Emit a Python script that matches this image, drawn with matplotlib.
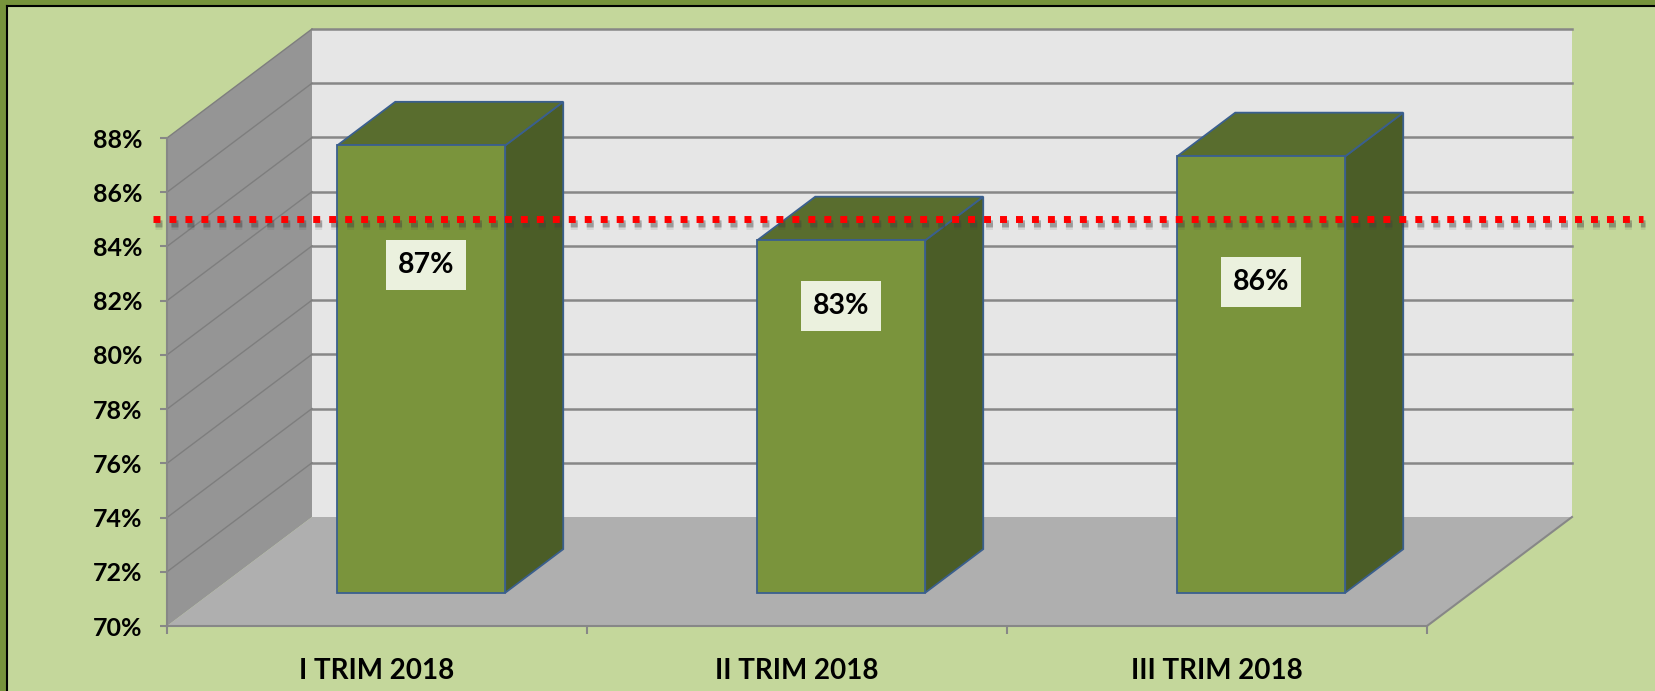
import matplotlib.pyplot as plt
from matplotlib.patches import Polygon, Rectangle
from matplotlib.lines import Line2D
import matplotlib.transforms as mtransforms

categories = ["I TRIM 2018", "II TRIM 2018", "III TRIM 2018"]
values = [86.5, 83.0, 86.1]
target = 85.0
ymin, ymax, ystep = 70, 88, 2

plt.rcParams['font.family'] = ['Lato', 'DejaVu Sans']
plt.rcParams['font.weight'] = 'bold'

W, H = 1655, 691
fig = plt.figure(figsize=(W / 100, H / 100), dpi=100)
fig.patch.set_facecolor('#C4D79B')

# outer frame (only top and left are visible)
fig.add_artist(Rectangle((0, 1 - 5 / H), 1, 5 / H, transform=fig.transFigure, color='#77933C', lw=0))
fig.add_artist(Rectangle((0, 0), 6 / W, 1, transform=fig.transFigure, color='#77933C', lw=0))
fig.add_artist(Line2D([7 / W, 1], [1 - 5.5 / H, 1 - 5.5 / H], transform=fig.transFigure, color='black', lw=1.5))
fig.add_artist(Line2D([7 / W, 7 / W], [0, 1 - 5.5 / H], transform=fig.transFigure, color='black', lw=1.5))

# front plane of the box, pixels
x0, x1, ybot, ytop = 167, 1427, 626, 138
ax = fig.add_axes([x0 / W, (H - ybot) / H, (x1 - x0) / W, (ybot - ytop) / H])
n = len(categories)
ax.set_xlim(-0.5, n - 0.5)
ax.set_ylim(ymin, ymax)
ax.patch.set_visible(False)
for s in ax.spines.values():
    s.set_visible(False)

# one full depth step in data units
DX = 145 / ((x1 - x0) / n)
DY = 109 / ((ybot - ytop) / (ymax - ymin))


def P(x, y, d):
    return (x + d * DX, y + d * DY)


L, R = -0.5, n - 0.5
grid = '#878787'

def poly(pts, fc, ec='none', lw=0, z=1):
    ax.add_patch(Polygon(pts, closed=True, fc=fc, ec=ec, lw=lw, zorder=z, clip_on=False))

# walls and floor
poly([P(L, ymin, 0), P(L, ymax, 0), P(L, ymax, 1), P(L, ymin, 1)], '#959595')
poly([P(L, ymin, 1), P(R, ymin, 1), P(R, ymax, 1), P(L, ymax, 1)], '#E6E6E6')
poly([P(L, ymin, 0), P(R, ymin, 0), P(R, ymin, 1), P(L, ymin, 1)], '#AFAFAF')

for v in range(ymin + ystep, ymax + 1, ystep):
    a, b = P(L, v, 1), P(R, v, 1)
    ax.plot([a[0], b[0]], [a[1], b[1]], color=grid, lw=1.8, zorder=2, clip_on=False)
    a, b = P(L, v, 0), P(L, v, 1)
    ax.plot([a[0], b[0]], [a[1], b[1]], color='#7E7E7E', lw=1, zorder=2, clip_on=False)

# axis lines
ax.plot([L, L], [ymin, ymax], color=grid, lw=1.5, zorder=3, clip_on=False)
ax.plot([L, R], [ymin, ymin], color=grid, lw=1.5, zorder=3, clip_on=False)
a, b = P(R, ymin, 0), P(R, ymin, 1)
ax.plot([a[0], b[0]], [a[1], b[1]], color=grid, lw=1.5, zorder=3, clip_on=False)

# bars
hw, d0, d1 = 0.2, 0.305, 0.705
edge = '#3A5F8E'
label_y = [83.3, 81.8, 82.7]
for i, v in enumerate(values):
    poly([P(i + hw, ymin, d0), P(i + hw, ymin, d1), P(i + hw, v, d1), P(i + hw, v, d0)],
         '#4B5D27', edge, 1.3, 4)
    poly([P(i - hw, v, d0), P(i + hw, v, d0), P(i + hw, v, d1), P(i - hw, v, d1)],
         '#596D2E', edge, 1.3, 4)
    poly([P(i - hw, ymin, d0), P(i + hw, ymin, d0), P(i + hw, v, d0), P(i - hw, v, d0)],
         '#7A943C', edge, 1.3, 5)
    ax.text(P(i, v, d0)[0] + (0.012 if i == 0 else 0), label_y[i], f"{int(v + 0.5)}%",
            ha='center', va='center', fontsize=20.5, fontweight='bold', zorder=6,
            bbox=dict(boxstyle='square,pad=0.42', fc='#EBF1DE', ec='none'))

# target line with a soft shadow
lx = [-0.533, 3.014]
ly = [target, target]
for k, al in [(2.5, 0.25), (3.5, 0.18), (4.5, 0.1)]:
    sh = mtransforms.offset_copy(ax.transData, fig=fig, x=1.5, y=-k, units='points')
    ax.plot(lx, ly, color='#404040', lw=5, alpha=al, ls=(0, (1, 1.3)), transform=sh,
            zorder=7, clip_on=False)
ax.plot(lx, ly, color='#FF0000', lw=5, ls=(0, (1, 1.3)), zorder=8, clip_on=False)

# ticks
ax.set_yticks(range(ymin, ymax + 1, ystep))
ax.set_yticklabels([f"{t}%" for t in range(ymin, ymax + 1, ystep)])
ax.tick_params(axis='y', length=5, width=1.5, color=grid, pad=13, labelsize=18)
ax.set_xticks(range(n))
ax.set_xticklabels(categories)
ax.set_xticks([k - 0.5 for k in range(n + 1)], minor=True)
ax.tick_params(axis='x', which='major', length=0, pad=23, labelsize=20)
ax.tick_params(axis='x', which='minor', length=6, width=1.5, color=grid)

fig.savefig('out.png', dpi=100, facecolor=fig.get_facecolor())
